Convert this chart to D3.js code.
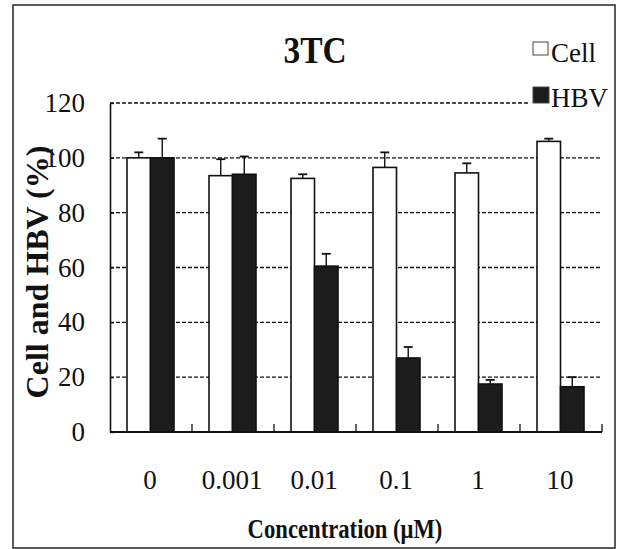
<!DOCTYPE html>
<html>
<head>
    <meta charset="utf-8"/>
    <title>3TC</title>
    <script src="https://d3js.org/d3.v7.min.js"></script>
    <style>
        body { margin: 0; background: #fff; }
        text { font-family: "Liberation Serif", "DejaVu Serif", serif; fill: #111; }
    </style>
</head>
<body>
<div id="chart"></div>
<script>
    const concentrations = ['0', '0.001', '0.01', '0.1', '1', '10']
    const cellValues = [100, 93.5, 92.5, 96.5, 94.5, 106]
    const cellErrors = [2, 6, 1.5, 5.5, 3.5, 1]
    const hbvValues = [100, 94, 60.5, 27, 17.5, 16.5]
    const hbvErrors = [7, 6.5, 4.5, 4, 1.5, 3.5]
    const yTicks = [0, 20, 40, 60, 80, 100, 120]
    const seriesNames = ['Cell', 'HBV']

    const W = 620, H = 549
    const margin = { top: 103, right: 18, bottom: 117, left: 110 }
    const width = W - margin.left - margin.right
    const height = H - margin.top - margin.bottom

    const svg = d3.select('#chart').append('svg')
        .attr('width', W)
        .attr('height', H)

    // outer frame
    svg.append('rect')
        .attr('x', 13).attr('y', 5)
        .attr('width', 602).attr('height', 543)
        .attr('fill', 'none')
        .attr('stroke', '#333')
        .attr('stroke-width', 1.6)

    const g = svg.append('g').attr('transform', `translate(${margin.left},${margin.top})`)

    const x = d3.scaleBand().domain(concentrations).range([0, width])
    const y = d3.scaleLinear().domain([0, 120]).range([height, 0])

    // dashed grid lines
    g.selectAll('.grid').data(yTicks.filter(d => d > 0)).enter().append('line')
        .attr('x1', 0).attr('x2', width - 2)
        .attr('y1', d => y(d)).attr('y2', d => y(d))
        .attr('stroke', '#111')
        .attr('stroke-width', 1.3)
        .attr('stroke-dasharray', '4 2')

    const barW = 23.5
    const groups = g.selectAll('.grp').data(concentrations).enter().append('g')
        .attr('transform', d => `translate(${x(d) + x.bandwidth() / 2 - 0.5},0)`)

    function drawSeries(values, errors, offset, fill) {
        groups.append('rect')
            .attr('x', offset)
            .attr('width', barW)
            .attr('y', (d, i) => y(values[i]))
            .attr('height', (d, i) => y(0) - y(values[i]))
            .attr('fill', fill)
            .attr('stroke', '#111')
            .attr('stroke-width', 1.6)
        groups.append('line')
            .attr('x1', offset + barW / 2).attr('x2', offset + barW / 2)
            .attr('y1', (d, i) => y(values[i]))
            .attr('y2', (d, i) => y(values[i] + errors[i]))
            .attr('stroke', '#111').attr('stroke-width', 1.4)
        groups.append('line')
            .attr('x1', offset + barW / 2 - 4.5).attr('x2', offset + barW / 2 + 4.5)
            .attr('y1', (d, i) => y(values[i] + errors[i]))
            .attr('y2', (d, i) => y(values[i] + errors[i]))
            .attr('stroke', '#111').attr('stroke-width', 1.8)
    }
    drawSeries(cellValues, cellErrors, -barW, '#fff')
    drawSeries(hbvValues, hbvErrors, 0, '#1c1c1c')

    // y axis
    const yAxis = g.append('g')
        .call(d3.axisLeft(y).tickValues(yTicks).tickSizeInner(-4).tickSizeOuter(0).tickPadding(25))
    yAxis.select('.domain').attr('stroke', '#111').attr('stroke-width', 1.6)
    yAxis.selectAll('.tick line').attr('stroke', '#111').attr('stroke-width', 1.3)
    yAxis.selectAll('.tick text')
        .style('font-family', '"Liberation Serif", serif')
        .style('font-size', '27px')
        .attr('fill', '#111')

    // x axis
    const xAxis = g.append('g').attr('transform', `translate(0,${height})`)
    xAxis.append('line')
        .attr('x1', 0).attr('x2', width)
        .attr('stroke', '#111').attr('stroke-width', 1.8)
    xAxis.selectAll('.bound').data(concentrations).enter().append('line')
        .attr('x1', d => x(d) + x.bandwidth()).attr('x2', d => x(d) + x.bandwidth())
        .attr('y1', 0).attr('y2', -8)
        .attr('stroke', '#111').attr('stroke-width', 1.3)
    xAxis.selectAll('.lbl').data(concentrations).enter().append('text')
        .attr('x', d => x(d) + x.bandwidth() / 2 - 1)
        .attr('y', 57)
        .attr('text-anchor', 'middle')
        .style('font-size', '27px')
        .text(d => d)

    function squeezedText(cx, cy, sx, size, content, rotate) {
        return svg.append('text')
            .attr('transform', `translate(${cx},${cy})` + (rotate ? ' rotate(-90)' : '') + ` scale(${sx},1)`)
            .attr('text-anchor', 'middle')
            .style('font-size', size + 'px').style('font-weight', 'bold')
            .text(content)
    }

    // title and axis titles
    squeezedText(315, 63, 0.88, 38, '3TC', false)
    squeezedText(345, 538, 0.84, 27, 'Concentration (μM)', false)
    squeezedText(48, 272, 1, 32, 'Cell and HBV (%)', true)

    // legend
    const legend = svg.append('g')
    legend.append('rect')
        .attr('x', 530).attr('y', 84).attr('width', 82).attr('height', 26)
        .attr('fill', '#fff')
    const fills = ['#fff', '#1c1c1c']
    const boxes = [[533, 42, 15, 13], [533, 87, 16, 16]]
    const legY = [62, 107]
    seriesNames.forEach((name, i) => {
        legend.append('rect')
            .attr('x', boxes[i][0]).attr('y', boxes[i][1])
            .attr('width', boxes[i][2]).attr('height', boxes[i][3])
            .attr('fill', fills[i])
            .attr('stroke', '#444').attr('stroke-width', 1)
        legend.append('text')
            .attr('x', 551).attr('y', legY[i])
            .style('font-size', '27px')
            .text(name)
    })
</script>
</body>
</html>
